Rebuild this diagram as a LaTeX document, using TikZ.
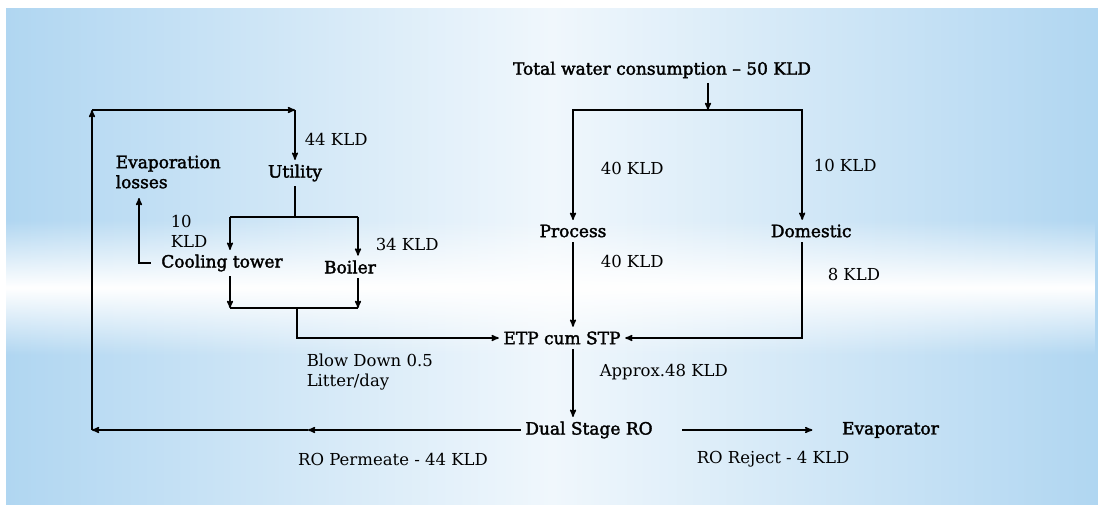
\documentclass[tikz,border=0pt]{standalone}
\usepackage{fontspec}
\setmainfont{DejaVu Serif}
\newfontfamily\namefont[FakeBold=2]{DejaVu Serif}
\usetikzlibrary{positioning,arrows,fadings}
\definecolor{bgblue}{RGB}{176,214,241}
\definecolor{bgpale}{RGB}{240,247,252}
\tikzfading[name=midband, top color=transparent!100, bottom color=transparent!100, middle color=transparent!0]

\begin{document}
\begin{tikzpicture}[x=1pt,y=-1pt,>=stealth',line width=1.5pt,
    box/.style={font=\namefont\fontsize{17}{20}\selectfont,inner sep=4pt},
    lbl/.style={font=\fontsize{16.5}{20}\selectfont,anchor=west,inner sep=0pt,align=left}]
      \useasboundingbox (0,0) rectangle (1098,504);
      \fill[white] (0,0) rectangle (1098,504);
      \fill[bgblue] (6,8) rectangle (1098,504);
      \shade[left color=bgblue,right color=bgblue,middle color=bgpale] (6,8) rectangle (1098,504);
      \fill[white,path fading=midband] (6,220) rectangle (1098,355);

      \node[box] (tot) at (662,70) {Total water consumption – 50 KLD};
      \node[box] (proc) at (573,231) {Process};
      \node[box,right=155pt of proc] (dom) {Domestic};
      \node[box] (etp) at (562,338) {ETP cum STP};
      \node[box] (ro) at (589,430) {Dual Stage RO};
      \node[box,right=180pt of ro] (evr) {Evaporator};
      \node[box] (util) at (295,173) {Utility};
      \node[box] (ct) at (222,263) {Cooling tower};
      \node[box] (boil) at (350,267) {Boiler};
      \node[box,anchor=west,align=left,inner sep=0pt] (evl) at (115,172) {Evaporation\\losses};

      \node[lbl] (l44) at (304,139) {44 KLD};
      \node[lbl] (l10a) at (170,231) {10\\KLD};
      \node[lbl] (l34) at (375,244) {34 KLD};
      \node[lbl] (l40a) at (600,168) {40 KLD};
      \node[lbl] (l10b) at (813,165) {10 KLD};
      \node[lbl] (l40b) at (600,261) {40 KLD};
      \node[lbl] (l8) at (827,274) {8 KLD};
      \node[lbl] (lbd) at (306,372) {Blow Down 0.5\\Litter/day};
      \node[lbl] (l48) at (599,372) {Approx.48 KLD};
      \node[lbl,anchor=center] (lper) at (393,459) {RO Permeate - 44 KLD};
      \node[lbl,anchor=center] (lrej) at (773,459) {RO Reject - 4 KLD};

      \coordinate (j3) at (708,110); \coordinate (j1) at (295,217);
      \coordinate (s1) at (230,217); \coordinate (s2) at (358,217);
      \coordinate (m1) at (230,308); \coordinate (m2) at (358,308);
      \coordinate (j2) at (297,308); \coordinate (ev) at (139,198);
      \coordinate (c1) at (92,430); \coordinate (c2) at (92,110);
      \coordinate (c3) at (295,110); \coordinate (pm) at (308,430);

      \draw[->] (tot.south -| j3) -- (j3);
      \draw[->] (j3) -| (proc.north); \draw[->] (j3) -| ([xshift=-9pt]dom.north);
      \draw[->] (proc.south) -- (proc.south |- etp.north);
      \draw[->] ([xshift=-9pt]dom.south) |- (etp.east);
      \draw[->] ([xshift=11pt]etp.south) -- ([xshift=11pt]etp.south |- ro.north);
      \draw[->,shorten <=25pt,shorten >=25pt] (ro.east) -- (ro.east -| evr.west);

      \draw (util.south) -- (j1); \draw (s1) -- (s2);
      \draw[->] (s1) -- (s1 |- ct.north); \draw[->] (s2) -- (s2 |- boil.north);
      \draw[->] (s1 |- ct.south) -- (m1); \draw[->] (s2 |- boil.south) -- (m2);
      \draw (m1) -- (m2); \draw[->] (j2) |- (etp.west);
      \draw[->,shorten <=6pt] (ct.west) -| (ev);

      \draw[->] (ro.west) -- (pm); \draw[->] (pm) -- (c1);
      \draw[->] (c1) -- (c2); \draw[->] (c2) -- (c3);
      \draw[->] (c3) -- (util.north);
    \end{tikzpicture}
\end{document}
